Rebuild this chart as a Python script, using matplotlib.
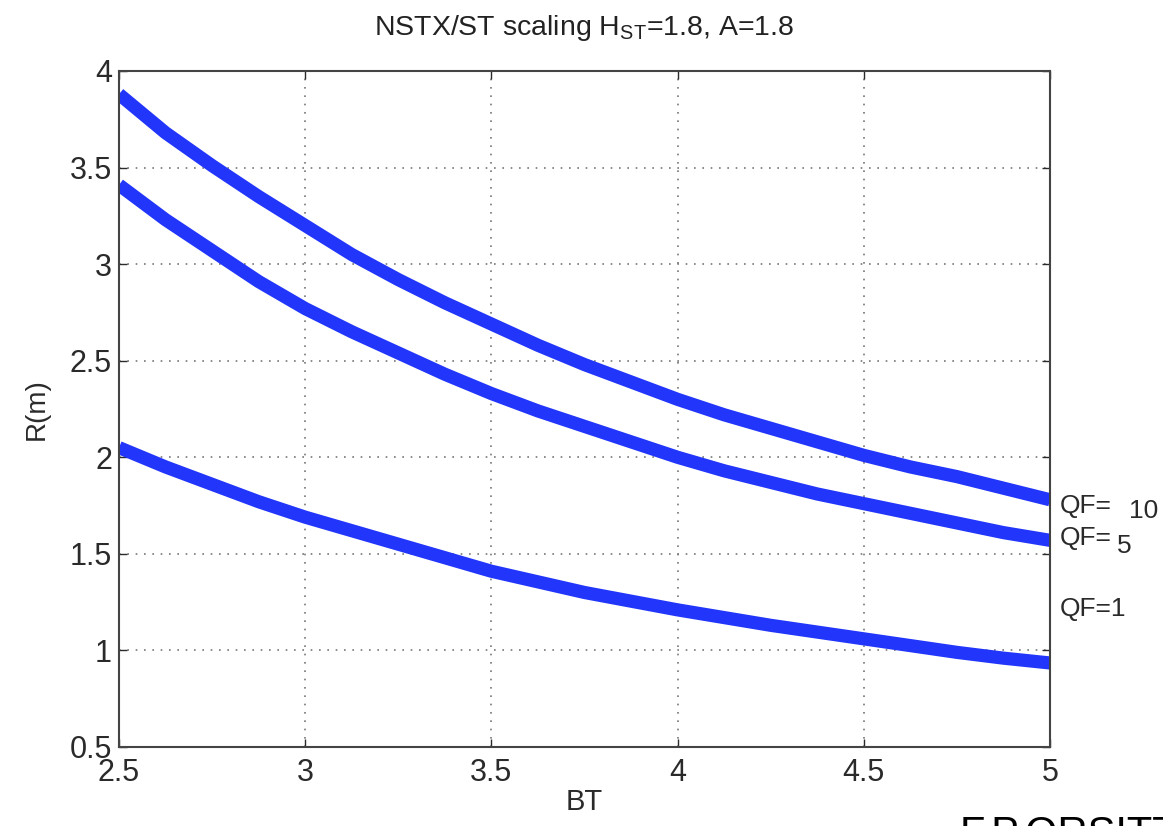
import matplotlib
matplotlib.use("Agg")
import matplotlib.pyplot as plt

plt.rcParams['font.family'] = ['Liberation Sans', 'DejaVu Sans']
plt.rcParams['mathtext.fontset'] = 'custom'
plt.rcParams['mathtext.rm'] = 'Liberation Sans'

# BT values and R(m)
bt = [2.5, 2.625, 2.75, 2.875, 3.0, 3.125, 3.25, 3.375, 3.5, 3.625, 3.75,
      3.875, 4.0, 4.125, 4.25, 4.375, 4.5, 4.625, 4.75, 4.875, 5.0]
r_qf10 = [3.88, 3.68, 3.51, 3.35, 3.20, 3.05, 2.92, 2.80, 2.69, 2.58, 2.48,
          2.39, 2.30, 2.22, 2.15, 2.08, 2.01, 1.95, 1.90, 1.84, 1.78]
r_qf5 = [3.41, 3.23, 3.07, 2.91, 2.77, 2.65, 2.54, 2.43, 2.33, 2.24, 2.16,
         2.08, 2.00, 1.93, 1.87, 1.81, 1.76, 1.71, 1.66, 1.61, 1.57]
r_qf1 = [2.05, 1.95, 1.86, 1.77, 1.69, 1.62, 1.55, 1.48, 1.41, 1.355, 1.30,
         1.255, 1.21, 1.17, 1.13, 1.095, 1.06, 1.025, 0.99, 0.96, 0.935]

xticks = [2.5, 3, 3.5, 4, 4.5, 5]
yticks = [0.5, 1, 1.5, 2, 2.5, 3, 3.5, 4]

W, H = 1163, 826
fig = plt.figure(figsize=(W / 100, H / 100), dpi=100)
ax = fig.add_axes([119 / W, 1 - 747 / H, (1050 - 119) / W, (747 - 71) / H])

col = '#2236fb'
for r in (r_qf10, r_qf5, r_qf1):
    ax.plot(bt, r, color=col, lw=9.5, solid_capstyle='butt',
            solid_joinstyle='round')

ax.set_xlim(2.5, 5)
ax.set_ylim(0.5, 4)
ax.set_xticks(xticks)
ax.set_yticks(yticks)
ax.set_xticklabels([f"{t:g}" for t in xticks])
ax.set_yticklabels([f"{t:g}" for t in yticks])
ax.tick_params(direction='in', top=True, right=True, length=6, width=1,
               labelsize=22, colors='#2a2a2a')
ax.tick_params(axis='x', pad=8)
ax.tick_params(axis='y', pad=5)
ax.grid(True, linestyle=(0, (1, 4)), color='#777777', lw=1.2)
for s in ax.spines.values():
    s.set_linewidth(1.5)
    s.set_color('#444444')

ax.set_title(r'NSTX/ST scaling H$_{\rm ST}$=1.8, A=1.8', fontsize=20.5,
             color='#222222', pad=26)
ax.set_xlabel('BT', fontsize=21, color='#2a2a2a', labelpad=0)
ax.set_ylabel('R(m)', fontsize=20, color='#2a2a2a', labelpad=14)

# curve labels on the right
fs = 19
c = '#2a2a2a'
fig.text(1060 / W, 1 - 506 / H, 'QF=', fontsize=fs, va='center', color=c)
fig.text(1129 / W, 1 - 511 / H, '10', fontsize=fs, va='center', color=c)
fig.text(1060 / W, 1 - 538 / H, 'QF=', fontsize=fs, va='center', color=c)
fig.text(1117 / W, 1 - 546 / H, '5', fontsize=fs, va='center', color=c)
fig.text(1060 / W, 1 - 609 / H, 'QF=1', fontsize=fs, va='center', color=c)

# author footer, cut off by the image edge as in the original slide
fig.text(960 / W, 1 - 815 / H, 'F.P.ORSITTO', fontsize=30, va='top', color='black')

fig.savefig('out.png', dpi=100)
